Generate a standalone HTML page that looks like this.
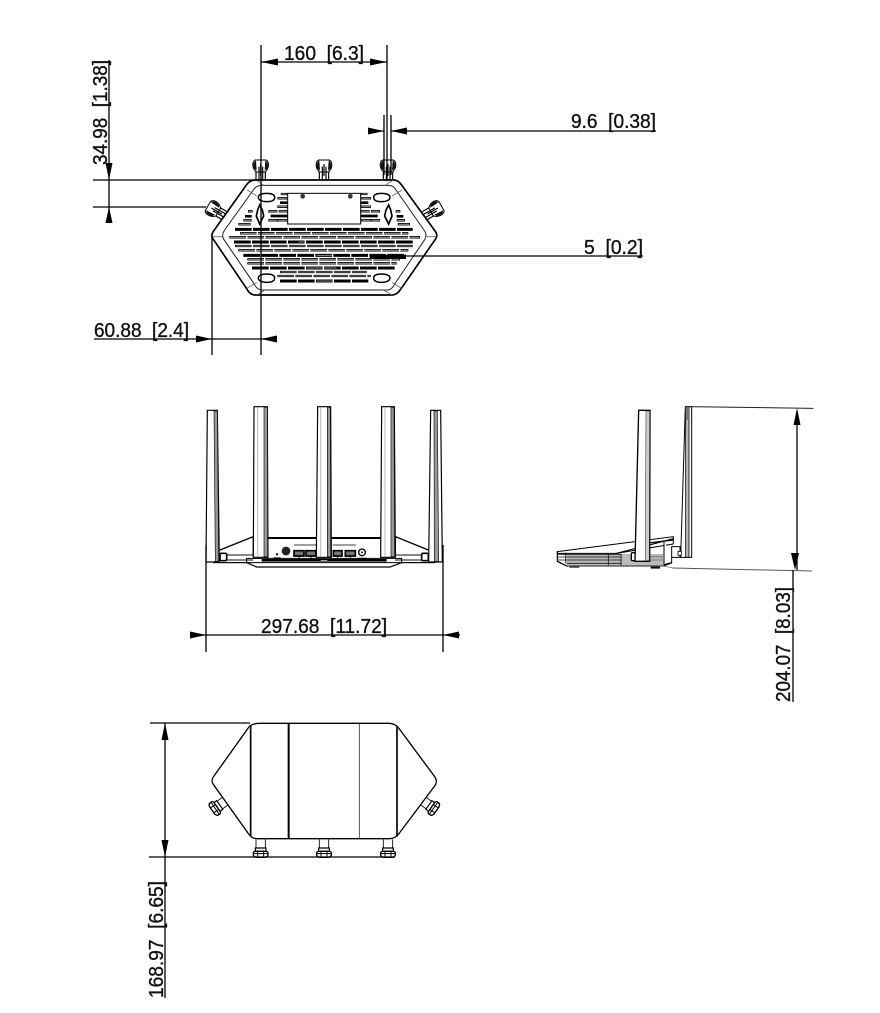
<!DOCTYPE html>
<html><head><meta charset="utf-8"><style>
html,body{margin:0;padding:0;background:#fff;width:880px;height:1013px;overflow:hidden}
svg{display:block}
text{font-family:"Liberation Sans",sans-serif;font-size:20px;fill:#111;stroke:#111;stroke-width:.35px}
</style></head><body>
<svg width="880" height="1013" viewBox="0 0 880 1013" xmlns="http://www.w3.org/2000/svg">
<rect width="880" height="1013" fill="#fff"/>
<defs>
<g id="ant"><path d="M-20 0 C-26 -12 -24 -24 -16 -28 L16 -28 C24 -24 26 -12 20 0 L14 8 L-14 8 Z" fill="#fff" stroke="#000" stroke-width="3"/>
<path d="M-20 -2 C-24 -12 -22 -22 -14 -26 L-12 4Z M20 -2 C24 -12 22 -22 14 -26 L12 4Z" fill="#111"/>
<path d="M-5 30 V-8 M6 30 V-8 M0 -16 V20 M-14 30 V6 M14 30 V6" stroke="#000" stroke-width="3.5" fill="none"/></g>
<g id="pieces" stroke="#000" fill="none">
<path d="M272 162H292M262 175H292M262 200H292M235 214H262M266 214H292M262 241H292M235 241H262M145 253H182M160 241H185M174 214H188" stroke-width="7"/>
<path d="M270 188H292M242 228H292M165 229H185" stroke-width="8"/>
<path d="M272 162H290M264 175H290M264 200H290M237 214H260M268 214H290M264 241H290M237 241H260M147 253H180M162 241H183M176 214H186" stroke="#fff" stroke-width="1.5"/>
<path d="M205 172 C205 164 216 160 230 160 C246 160 254 164 254 172 C254 180 246 185 230 185 C216 185 205 180 205 172Z" fill="#fff" stroke-width="4.5"/>
<path d="M209 195 L217 210 L221 228 L209 252 L199 228 L203 210Z" fill="#fff" stroke-width="5"/>
<path d="M205 414 C205 406 216 402 230 402 C246 402 254 406 254 414 C254 422 246 427 230 427 C216 427 205 422 205 414Z" fill="#fff" stroke-width="4.5"/>
</g>
<g id="foot"><path d="M-14 -52 V-26 M14 -52 V-26" fill="none" stroke="#000" stroke-width="2.5"/>
<path d="M-16 -26 H16 V-16 H-16Z" fill="#fff" stroke="#000" stroke-width="3.5"/>
<path d="M-22 -8 C-23 -13 -20 -16 -16 -16 H16 C20 -16 23 -13 22 -8 C23 -2 18 2 12 2 H-12 C-18 2 -23 -2 -22 -8Z" fill="#fff" stroke="#000" stroke-width="4"/>
<path d="M-9 -16 V2 M9 -16 V2 M-22 -9 H22" stroke="#000" stroke-width="3" fill="none"/></g>
</defs>

<!-- TOP VIEW -->
<g transform="translate(190,140) scale(.33333)">
<use href="#ant" transform="translate(212,88)"/>
<use href="#ant" transform="translate(402,88)"/>
<use href="#ant" transform="translate(594,88)"/>
<use href="#ant" transform="translate(78,212) rotate(-60)"/>
<use href="#ant" transform="translate(730,212) rotate(60)"/>
<path d="M195 120 H610 C622 120 628 126 634 134 L736 274 C742 282 742 290 736 298 L634 445 C626 458 618 465 606 465 H195 C184 465 176 458 170 446 L70 298 C64 290 64 282 70 274 L170 134 C176 126 184 120 195 120Z" fill="#fff" stroke="#000" stroke-width="5"/>
<path d="M215 136 H594 C606 136 612 140 618 150 L702 270 C710 282 710 290 702 302 L618 426 C610 440 604 450 592 450 H215 C204 450 196 440 190 428 L104 302 C96 290 96 282 104 270 L190 150 C196 140 204 136 215 136Z" fill="none" stroke="#222" stroke-width="3"/>
<path d="M172 150 L200 168 M198 120 L222 136 M66 290 L98 290 M172 444 L200 428 M200 465 L226 450 M636 150 L606 168 M610 120 L586 136 M740 290 L708 290 M634 444 L606 428 M606 465 L580 450" stroke="#666" stroke-width="2.5" fill="none"/>
<rect x="293" y="160" width="219" height="92" fill="#fff" stroke="#000" stroke-width="3"/>
<circle cx="338" cy="169" r="7" fill="#333"/><circle cx="481" cy="169" r="7" fill="#333"/>
<use href="#pieces"/>
<use href="#pieces" transform="translate(805,0) scale(-1,1)"/>
<g fill="none" stroke="#000">
<g stroke-width="9" stroke-dasharray="50 4">
<path d="M135 268H668M132 306H672M160 346H648M186 384H618M270 423H535"/>
</g>
<g stroke-width="7" stroke-dasharray="50 4">
<path d="M150 280H655M118 292H690M135 318H668M145 331H655M172 358H630M172 370H620M270 396H530M262 408H542"/>
</g>
<g stroke="#fff" stroke-width="1.6">
<path d="M152 280H653M120 292H688M137 318H666M147 331H653M174 358H628M174 370H618M272 396H528M264 408H540M380 346H430M380 423H430M325 306H345M350 384H440"/>
</g>
<path d="M540 351H648" stroke="#000" stroke-width="12"/>
</g>
</g>

<!-- FRONT VIEW -->
<g transform="translate(190,400) scale(.33333)">
<path d="M70 488 H735" stroke="#000" stroke-width="3"/>
<path d="M90 450 L190 410 V470 M715 450 L616 410 V470" fill="none" stroke="#000" stroke-width="4"/>
<path d="M233 414 H382 M424 414 H572" stroke="#000" stroke-width="6"/>
<path d="M312 435 H378 M428 435 H498" stroke="#000" stroke-width="2.5"/>
<path d="M80 465 H190 M80 480 H190 M615 465 H725 M615 480 H725" stroke="#888" stroke-width="6"/>
<path d="M70 488 L84 488 H170 V475 L215 475 H590 L635 475 V488 H720 L735 488" fill="none" stroke="#000" stroke-width="3"/>
<path d="M170 488 L200 501 H600 L635 488" fill="none" stroke="#000" stroke-width="3.5"/>
<path d="M215 481 H590" stroke="#000" stroke-width="8"/>
<path d="M392 481 H412" stroke="#fff" stroke-width="2"/>
<rect x="90" y="460" width="20" height="22" rx="4" fill="#fff" stroke="#000" stroke-width="5"/>
<rect x="695" y="460" width="20" height="22" rx="4" fill="#fff" stroke="#000" stroke-width="5"/>
<path d="M250 478 h22 v-6 h-22z" fill="#111"/><circle cx="261" cy="463" r="3.5" fill="#111"/>
<circle cx="288" cy="453" r="13" fill="#222"/>
<circle cx="516" cy="457" r="10" fill="#fff" stroke="#000" stroke-width="4"/><circle cx="516" cy="457" r="3" fill="#111"/>
<path d="M505 476 h24" stroke="#000" stroke-width="5"/>
<g fill="#777" stroke="#000" stroke-width="5">
<path d="M312 452 h30 v16 h-30z"/><path d="M348 452 h30 v16 h-30z"/><path d="M430 452 h26 v16 h-26z"/><path d="M466 452 h30 v16 h-30z"/>
</g>
<path d="M327 468v12M363 468v12M443 468v12M481 468v12" stroke="#000" stroke-width="2.5"/>
<!-- antennas -->
<g stroke="#000" stroke-width="3.5" fill="#fff">
<path d="M52 31 H82 L88 486 H48Z"/><path d="M192 20 H232 L234 472 H190Z"/><path d="M383 20 H422 L424 472 H379Z"/><path d="M575 20 H613 L616 472 H572Z"/><path d="M722 31 H752 L757 486 H716Z"/>
</g>
<g fill="#999" stroke="#111" stroke-width="2">
<path d="M72 33 H82 L86 484 H76Z"/><path d="M222 22 H232 L233 470 H222Z"/><path d="M412 22 H421 L422 470 H412Z"/><path d="M603 22 H612 L614 470 H603Z"/><path d="M732 33 H742 L746 484 H733Z"/>
</g>
<path d="M203 22 V470 M392 22 V470 M585 22 V470" stroke="#bbb" stroke-width="3"/>
</g>

<!-- SIDE VIEW -->
<g transform="translate(540,400) scale(.33333)">
<rect x="80" y="462" width="290" height="36" fill="#bbb"/>
<path d="M52 455 L400 410 V432 L230 460 H52Z" fill="#fff" stroke="#000" stroke-width="3"/>
<path d="M230 460 L400 416 M330 428 L400 420" stroke="#000" stroke-width="3.5"/>
<path d="M372 424 V494 L395 488 V440 H420 V472 H396" fill="#fff" stroke="#000" stroke-width="3"/>
<path d="M52 455 V484 L80 498 H370 L396 488" fill="none" stroke="#000" stroke-width="3.5"/>
<path d="M52 463H245M52 471H245M52 480H245M80 490H245M77 458V490M205 462V498M243 462V498" stroke="#111" stroke-width="2.5" fill="none"/>
<path d="M330 470H372M330 480H372" stroke="#888" stroke-width="4"/>
<path d="M88 497 H118 V503 H88Z M332 499 H360 V506 H332Z" fill="#111"/>
<rect x="274" y="458" width="14" height="24" rx="4" fill="#fff" stroke="#000" stroke-width="4"/>
<path d="M296 31 H330 L329 484 H285Z" fill="#fff" stroke="#000" stroke-width="4"/>
<path d="M318 33 H329 L328 482 H316Z" fill="#ccc" stroke="#222" stroke-width="1.5"/>
<path d="M436 20 H455 V472 H422Z" fill="#fff" stroke="#000" stroke-width="3"/>
<path d="M437 21 H447 V472 H437Z" fill="#bbb" stroke="#000" stroke-width="2.5"/>
<path d="M437 21 H447 V60 H437Z" fill="#777"/>
<rect x="414" y="454" width="10" height="12" fill="#fff" stroke="#000" stroke-width="2.5"/>
<path d="M436 20 L820 25" stroke="#222" stroke-width="3"/>
<path d="M396 504 L815 513" stroke="#555" stroke-width="3"/>
<path d="M80 498 H370 L400 504" stroke="#777" stroke-width="2.5" fill="none"/>
</g>

<!-- BOTTOM VIEW -->
<g transform="translate(140,710) scale(.33333)">
<use href="#foot" transform="translate(362,440)"/>
<use href="#foot" transform="translate(552,440)"/>
<use href="#foot" transform="translate(744,440)"/>
<use href="#foot" transform="translate(218,300) rotate(55)"/>
<use href="#foot" transform="translate(888,300) rotate(-55)"/>
<path d="M360 40 H745 C758 40 768 44 776 54 L884 200 C891 210 891 218 884 228 L776 372 C768 382 760 386 748 386 H350 C340 386 332 380 326 372 L222 226 C214 216 214 208 222 198 L326 52 C332 44 345 40 360 40Z" fill="#fff" stroke="#000" stroke-width="4"/>
<path d="M332 46 V380" stroke="#000" stroke-width="5"/>
<path d="M446 40 V386" stroke="#000" stroke-width="6"/>
<path d="M658 40 V386" stroke="#333" stroke-width="2.5"/>
<path d="M771 50 V380" stroke="#000" stroke-width="5"/>
</g>

<!-- DIMENSIONS -->
<g stroke="#000" stroke-width="1.3" fill="none">
<path d="M261 45 V355 M387 45 V180 M384 115 V175 M391 115 V175"/>
<path d="M261 62 H387 M368 131 H384 M391 131 H656"/>
<path d="M93 180 H260 M93 207 H206"/>
<path d="M109 60 V223"/>
<path d="M94 339 H277 M212 235 V355"/>
<path d="M370 256 H643"/>
<path d="M206 545 V652 M443 545 V652 M190 635 H460"/>
<path d="M797 415 V570 M793 570 V702"/>
<path d="M150 723 H250 M149 857 H395 M165 723 V998"/>
</g>
<g fill="#000">
<path d="M261 62 L278 58.500 V65.500Z M387 62 L370 58.500 V65.500Z"/>
<path d="M384 131 L368 127.500 V134.500Z M391 131 L407 127.500 V134.500Z"/>
<path d="M109 180 L105.500 163 H112.500Z M109 207 L105.500 223 H112.500Z"/>
<path d="M212 339 L196 335.500 V342.500Z M261 339 L277 335.500 V342.500Z"/>
<path d="M206 635 L190 631.500 V638.500Z M443 635 L459 631.500 V638.500Z"/>
<path d="M797 408 L793.500 425 H800.500Z M795 570 L791 553 H799Z"/>
<path d="M165 723 L161.500 740 H168.500Z M165 857 L161.500 840 H168.500Z"/>
</g>

<!-- LABELS -->
<text x="284" y="60" textLength="80" lengthAdjust="spacingAndGlyphs" xml:space="preserve">160  [6.3]</text>
<text x="571" y="128" textLength="85" lengthAdjust="spacingAndGlyphs" xml:space="preserve">9.6  [0.38]</text>
<text x="584" y="254" textLength="59" lengthAdjust="spacingAndGlyphs" xml:space="preserve">5  [0.2]</text>
<text x="94" y="337" textLength="95" lengthAdjust="spacingAndGlyphs" xml:space="preserve">60.88  [2.4]</text>
<text x="261" y="633" textLength="126" lengthAdjust="spacingAndGlyphs" xml:space="preserve">297.68  [11.72]</text>
<text transform="translate(107,165) rotate(-90)" textLength="105" lengthAdjust="spacingAndGlyphs" xml:space="preserve">34.98  [1.38]</text>
<text transform="translate(790,702) rotate(-90)" textLength="115" lengthAdjust="spacingAndGlyphs" xml:space="preserve">204.07  [8.03]</text>
<text transform="translate(163,998) rotate(-90)" textLength="117" lengthAdjust="spacingAndGlyphs" xml:space="preserve">168.97  [6.65]</text>
</svg>
</body></html>
